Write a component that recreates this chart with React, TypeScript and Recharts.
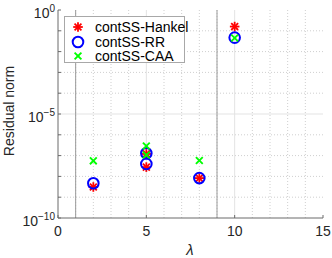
import { ScatterChart, Scatter, XAxis, YAxis, ReferenceLine, Legend } from "recharts"

// eigenvalue positions and residual norms per method
const lambdaVals = [2, 5, 5, 8, 10]
const hankelNorm = [3.1e-9, 1.2e-7, 2.8e-8, 8.3e-9, 0.16]
const rrNorm = [4.7e-9, 1.3e-7, 4.0e-8, 8.3e-9, 0.047]
const caaNorm = [5.6e-8, 2.9e-7, 1.07e-7, 5.8e-8, 0.045]
const seriesNames = ["contSS-Hankel", "contSS-RR", "contSS-CAA"]

const xTicks = [0, 5, 10, 15]
const xMinor = [1, 2, 3, 4, 6, 7, 8, 9, 11, 12, 13, 14]
const yTicks = [1e-10, 1e-5, 1]
const yExp = ["\u221210", "\u22125", "0"]
const yDecades = [1e-10, 1e-9, 1e-8, 1e-7, 1e-6, 1e-5, 1e-4, 1e-3, 1e-2, 1e-1, 1]
const yMinor = [1e-9, 1e-8, 1e-7, 1e-6, 1e-4, 1e-3, 1e-2, 1e-1]
const xLines = [1, 9]

const FONT = '"Liberation Sans", Arial, Helvetica, sans-serif'
const AXIS = "#6b6b6b"
const TEXT = "#262626"
const RED = "#ff0000"
const BLUE = "#0000ff"
const GREEN = "#00ff00"

const toPoints = (vals: number[]) => vals.map((v, i) => ({ x: lambdaVals[i], y: v }))

const Star = ({ cx, cy, r = 4.8 }: { cx: number; cy: number; r?: number }) => {
  const d = r * 0.72
  return (
    <g stroke={RED} strokeWidth={1.8}>
      <line x1={cx - r} y1={cy} x2={cx + r} y2={cy} />
      <line x1={cx} y1={cy - r} x2={cx} y2={cy + r} />
      <line x1={cx - d} y1={cy - d} x2={cx + d} y2={cy + d} />
      <line x1={cx - d} y1={cy + d} x2={cx + d} y2={cy - d} />
    </g>
  )
}

const Ring = ({ cx, cy }: { cx: number; cy: number }) => (
  <circle cx={cx} cy={cy} r={5.3} fill="none" stroke={BLUE} strokeWidth={2} />
)

const Cross = ({ cx, cy }: { cx: number; cy: number }) => (
  <g stroke={GREEN} strokeWidth={1.9}>
    <line x1={cx - 3.4} y1={cy - 3.4} x2={cx + 3.4} y2={cy + 3.4} />
    <line x1={cx - 3.4} y1={cy + 3.4} x2={cx + 3.4} y2={cy - 3.4} />
  </g>
)

const renderXTick = (props: any) => {
  const { x, y, payload } = props
  return (
    <g>
      <line x1={x} x2={x} y1={y} y2={y - 3} stroke={AXIS} />
      <text x={x} y={y + 18} textAnchor="middle" fontSize={14} fontFamily={FONT} fill={TEXT}>
        {payload.value}
      </text>
    </g>
  )
}

const renderTopTick = (props: any) => {
  const { x, y } = props
  return <line x1={x} x2={x} y1={y} y2={y + 3} stroke={AXIS} />
}

const renderYTick = (props: any) => {
  const { x, y, payload } = props
  const idx = yTicks.indexOf(payload.value)
  return (
    <g>
      <line x1={x} x2={x + 3} y1={y} y2={y} stroke={AXIS} />
      {idx >= 0 && (
        <text x={x - 3} y={y + 8} textAnchor="end" fontSize={14} fontFamily={FONT} fill={TEXT}>
          10
          <tspan dy={-6.5} fontSize={10}>
            {yExp[idx]}
          </tspan>
        </text>
      )}
    </g>
  )
}

const renderRightTick = (props: any) => {
  const { x, y } = props
  return <line x1={x} x2={x - 3} y1={y} y2={y} stroke={AXIS} />
}

const legendMarkers = [
  <Star cx={7} cy={7} r={4.8} />,
  <Ring cx={7} cy={7} />,
  <Cross cx={7} cy={7} />,
]

const LegendBox = () => (
  <div
    style={{
      position: "relative",
      width: 121,
      height: 47,
      boxSizing: "border-box",
      border: "1px solid #a8a8a8",
      background: "#fff",
      fontFamily: FONT,
      fontSize: 14,
      color: "#000",
    }}
  >
    {seriesNames.map((name, i) => (
      <div
        key={name}
        style={{ position: "absolute", left: 0, top: 2 + i * 14.5, height: 16, lineHeight: "16px", whiteSpace: "nowrap" }}
      >
        <svg width={14} height={14} style={{ position: "absolute", left: 6, top: 1 }}>
          {legendMarkers[i]}
        </svg>
        <span style={{ position: "absolute", left: 30, top: 0 }}>{name}</span>
      </div>
    ))}
  </div>
)

export default function App() {
  return (
    <div style={{ position: "fixed", left: 0, top: 0, width: 332, height: 258, background: "#fff" }}>
      <ScatterChart width={332} height={258} margin={{ top: 10, right: 9, bottom: 0, left: 0 }}>
        <XAxis
          xAxisId="b"
          dataKey="x"
          type="number"
          domain={[0, 15]}
          ticks={xTicks}
          interval={0}
          allowDataOverflow
          height={40}
          tickSize={0}
          tickMargin={0}
          tickLine={false}
          axisLine={{ stroke: AXIS }}
          tick={renderXTick}
          label={{
            content: () => (
              <text x={190} y={255} textAnchor="middle" fontFamily={FONT} fontSize={15} fontStyle="italic" fill={TEXT}>
                {"\u03bb"}
              </text>
            ),
          }}
        />
        <XAxis
          xAxisId="t"
          orientation="top"
          dataKey="x"
          type="number"
          domain={[0, 15]}
          ticks={xTicks}
          interval={0}
          allowDataOverflow
          height={0}
          tickSize={0}
          tickMargin={0}
          tickLine={false}
          axisLine={{ stroke: AXIS }}
          tick={renderTopTick}
        />
        <YAxis
          yAxisId="l"
          dataKey="y"
          type="number"
          scale="log"
          domain={[1e-10, 1]}
          ticks={yDecades}
          interval={0}
          allowDataOverflow
          width={58}
          tickSize={0}
          tickMargin={0}
          tickLine={false}
          axisLine={{ stroke: AXIS }}
          tick={renderYTick}
          label={{
            content: () => (
              <text
                x={14}
                y={111}
                transform="rotate(-90 14 111)"
                textAnchor="middle"
                fontFamily={FONT}
                fontSize={14}
                fill={TEXT}
              >
                Residual norm
              </text>
            ),
          }}
        />
        <YAxis
          yAxisId="r"
          orientation="right"
          dataKey="y"
          type="number"
          scale="log"
          domain={[1e-10, 1]}
          ticks={yDecades}
          interval={0}
          allowDataOverflow
          width={0}
          tickSize={0}
          tickMargin={0}
          tickLine={false}
          axisLine={{ stroke: AXIS }}
          tick={renderRightTick}
        />

        {xMinor.map((v) => (
          <ReferenceLine key={`xm${v}`} xAxisId="b" yAxisId="l" x={v} stroke="#cfcfcf" strokeDasharray="1 2" />
        ))}
        {yMinor.map((v) => (
          <ReferenceLine key={`ym${v}`} xAxisId="b" yAxisId="l" y={v} stroke="#cfcfcf" strokeDasharray="1 2" />
        ))}
        <ReferenceLine xAxisId="b" yAxisId="l" x={5} stroke="#e3e3e3" />
        <ReferenceLine xAxisId="b" yAxisId="l" x={10} stroke="#e3e3e3" />
        <ReferenceLine xAxisId="b" yAxisId="l" y={1e-5} stroke="#e3e3e3" />
        {xLines.map((v) => (
          <ReferenceLine key={`xl${v}`} xAxisId="b" yAxisId="l" x={v} stroke="#9a9a9a" strokeWidth={1} />
        ))}

        <Scatter
          name={seriesNames[0]}
          xAxisId="b"
          yAxisId="l"
          data={toPoints(hankelNorm)}
          isAnimationActive={false}
          shape={(p: any) => <Star cx={p.cx} cy={p.cy} />}
        />
        <Scatter
          name={seriesNames[1]}
          xAxisId="b"
          yAxisId="l"
          data={toPoints(rrNorm)}
          isAnimationActive={false}
          shape={(p: any) => <Ring cx={p.cx} cy={p.cy} />}
        />
        <Scatter
          name={seriesNames[2]}
          xAxisId="b"
          yAxisId="l"
          data={toPoints(caaNorm)}
          isAnimationActive={false}
          shape={(p: any) => <Cross cx={p.cx} cy={p.cy} />}
        />

        <Legend
          layout="horizontal"
          verticalAlign="middle"
          align="center"
          wrapperStyle={{ left: 64, top: 16, width: 121, height: 47, margin: 0, padding: 0 }}
          content={() => <LegendBox />}
        />
      </ScatterChart>
    </div>
  )
}
